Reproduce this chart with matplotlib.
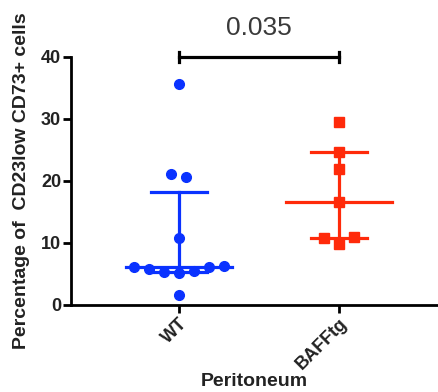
import numpy as np
import matplotlib
matplotlib.use("Agg")
import matplotlib.pyplot as plt

plt.rcParams['font.family'] = ['Liberation Sans', 'DejaVu Sans']

GROUPS = ["WT", "BAFFtg"]
WT_VALUES = [35.6, 21.1, 20.6, 10.8, 6.1, 5.8, 5.3, 5.2, 5.5, 6.1, 6.3, 1.6]
BAFF_VALUES = [29.5, 24.7, 21.9, 16.6, 11.0, 10.8, 9.8]
COLORS = ["#0a32ff", "#ff2a0a"]
MARKERS = ["o", "s"]
P_VALUE = "0.035"
Y_TICKS = [0, 10, 20, 30, 40]


def swarm_offsets(values, step=0.094, row_gap=1.5):
    """Group close values into rows and spread each row around the centre."""
    order = np.argsort(values)
    vals = np.asarray(values)[order]
    offsets = np.zeros(len(vals))
    rows, cur = [], [0]
    for i in range(1, len(vals)):
        if vals[i] - vals[cur[0]] <= row_gap:
            cur.append(i)
        else:
            rows.append(cur)
            cur = [i]
    rows.append(cur)
    for row in rows:
        n = len(row)
        if n % 2:
            slots = [0]
            for k in range(1, n // 2 + 1):
                slots += [-k, k]
        else:
            slots = []
            for k in range(n // 2):
                slots += [k + 0.5, -(k + 0.5)]
        for idx, s in zip(row, slots):
            offsets[idx] = s * step
    out = np.zeros(len(vals))
    out[order] = offsets
    return out


fig = plt.figure(figsize=(4.38, 3.92), dpi=100)
ax = fig.add_axes([0.162, 0.222, 0.838, 0.633])

for i, (vals, color, marker) in enumerate(zip([WT_VALUES, BAFF_VALUES], COLORS, MARKERS)):
    # median with interquartile range, GraphPad-style quartiles
    q1, med, q3 = np.percentile(vals, [25, 50, 75], method="weibull")
    ax.plot([i, i], [q1, q3], color=color, lw=2.3, zorder=2)
    ax.plot([i - 0.33, i + 0.33], [med, med], color=color, lw=2.3, zorder=2)
    for q in (q1, q3):
        ax.plot([i - 0.175, i + 0.175], [q, q], color=color, lw=2.3, zorder=2)
    xs = i + swarm_offsets(vals)
    ax.plot(xs, vals, linestyle="none", marker=marker, color=color,
            markersize=7 if marker == "o" else 6.5, zorder=3)

# significance bracket
ax.plot([0, 1], [40, 40], color="black", lw=2.3, clip_on=False)
for xb in (0, 1):
    ax.plot([xb, xb], [39.2, 40.8], color="black", lw=2.3, clip_on=False)
ax.text(0.5, 44.7, P_VALUE, ha="center", va="center", fontsize=19,
        color="#3a3a3a")

ax.set_xlim(-0.675, 1.62)
ax.set_ylim(0, 40)
ax.set_yticks(Y_TICKS)
ax.set_xticks(range(len(GROUPS)))
ax.set_xticklabels(GROUPS, rotation=45, ha="right", rotation_mode="anchor",
                   fontsize=13, fontweight="bold", color="#222222")
for lbl in ax.get_yticklabels():
    lbl.set_fontsize(13)
    lbl.set_fontweight("bold")
    lbl.set_color("#222222")

for side in ("top", "right"):
    ax.spines[side].set_visible(False)
for side in ("left", "bottom"):
    ax.spines[side].set_linewidth(2.0)
ax.tick_params(axis="both", width=2.0, length=6, direction="out", pad=1)

ax.set_xlabel("Peritoneum", fontsize=14, fontweight="bold", color="#222222",
              labelpad=0)
ax.set_ylabel("Percentage of  CD23low CD73+ cells", fontsize=14,
              fontweight="bold", color="#222222", labelpad=8)

fig.savefig("out.png", dpi=100)
